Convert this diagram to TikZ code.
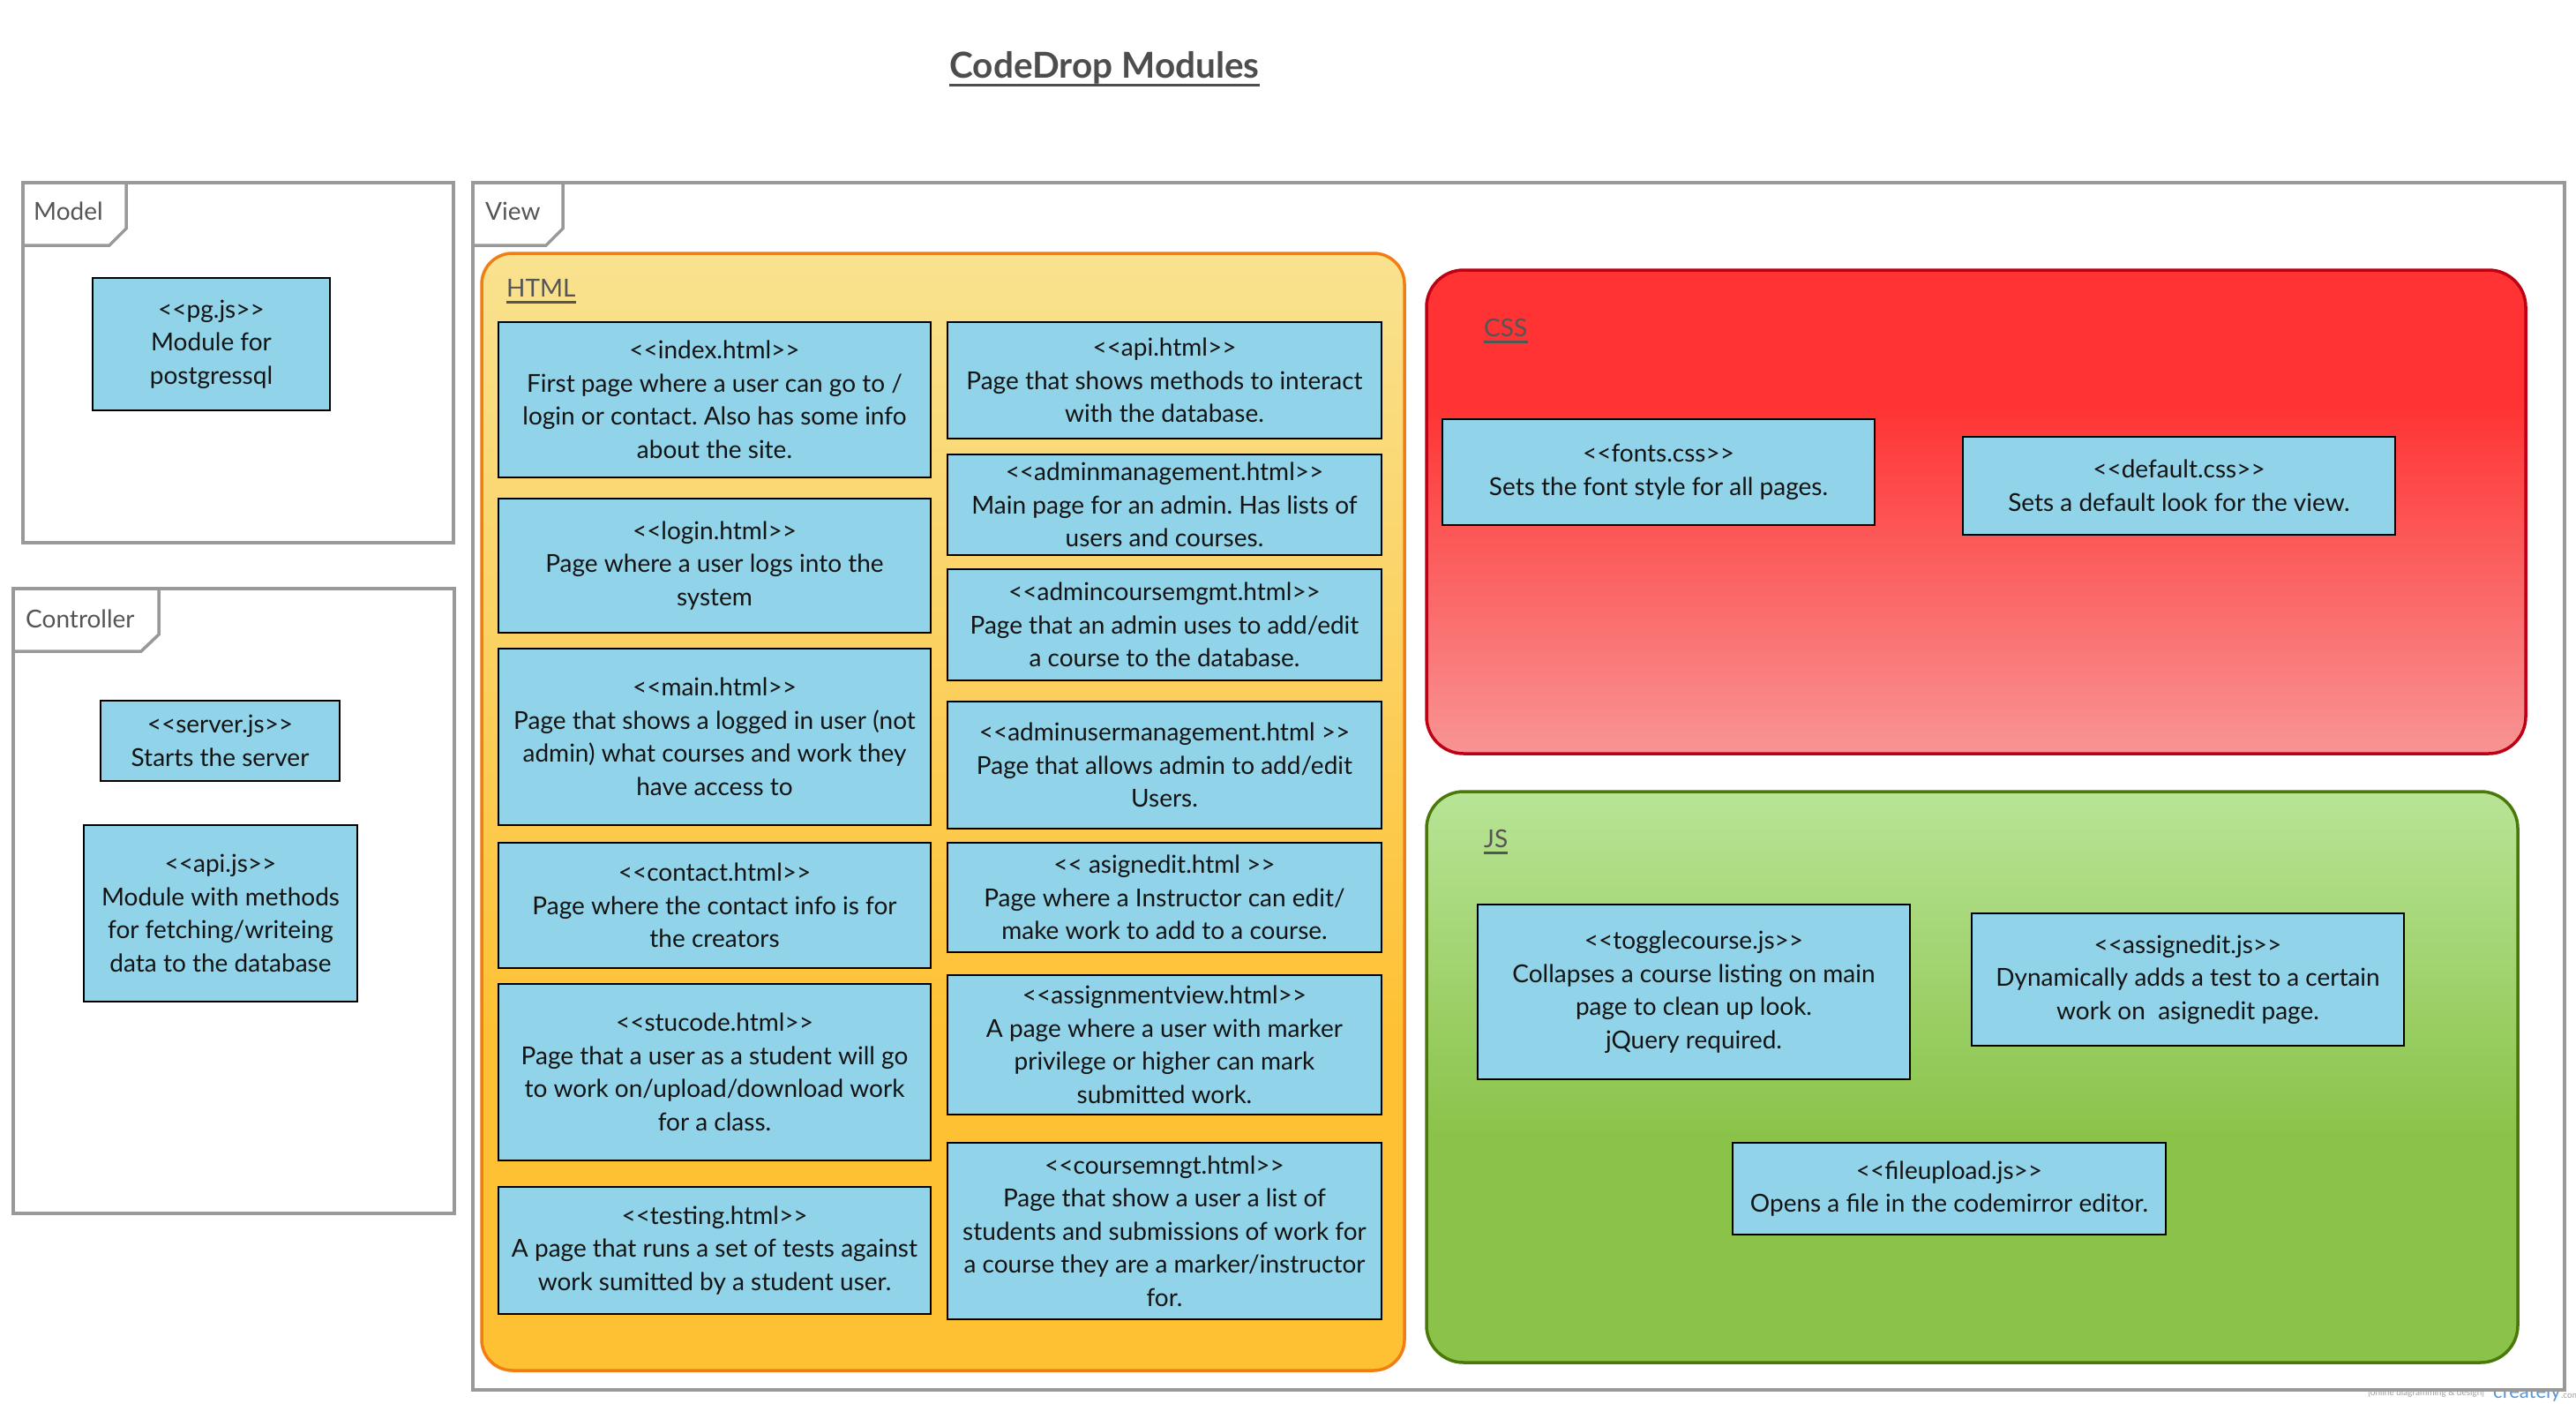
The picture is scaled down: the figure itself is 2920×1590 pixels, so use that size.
\documentclass[tikz,border=0pt]{standalone}
\usepackage{fontspec}
\setmainfont{Lato}
\frenchspacing
\definecolor{boxblue}{RGB}{145,212,233}
\definecolor{txtblack}{RGB}{20,20,20}
\definecolor{framegray}{RGB}{153,153,153}
\definecolor{labelgray}{RGB}{85,85,85}
\definecolor{titlegray}{RGB}{77,77,77}
\definecolor{htmltop}{RGB}{249,226,143}
\definecolor{htmlbot}{RGB}{254,193,52}
\definecolor{htmlborder}{RGB}{240,126,20}
\definecolor{csstop}{RGB}{255,51,51}
\definecolor{cssbot}{RGB}{248,148,148}
\definecolor{cssborder}{RGB}{190,0,20}
\definecolor{jstop}{RGB}{184,228,150}
\definecolor{jsbot}{RGB}{139,195,74}
\definecolor{jsborder}{RGB}{74,120,10}
\definecolor{wmgray}{RGB}{160,160,160}
\definecolor{wmblue}{RGB}{90,150,210}
\pgfdeclareverticalshading{htmlshade}{100bp}{color(0bp)=(htmlbot); color(40bp)=(htmlbot); color(75bp)=(htmltop); color(100bp)=(htmltop)}
\pgfdeclareverticalshading{cssshade}{100bp}{color(0bp)=(cssbot); color(25bp)=(cssbot); color(61bp)=(csstop); color(100bp)=(csstop)}
\pgfdeclareverticalshading{jsshade}{100bp}{color(0bp)=(jsbot); color(45bp)=(jsbot); color(75bp)=(jstop); color(100bp)=(jstop)}
\newcommand\dlt{<\kern0pt<}
\newcommand\dgt{>\kern0pt>}
\begin{document}
\begin{tikzpicture}[x=1pt,y=-1pt,
  bluebox/.style={draw=black, line width=2.5pt, fill=boxblue, align=center, inner sep=0pt,
    text=txtblack, font=\fontsize{28}{37.5}\selectfont},
  container/.style={draw=framegray, line width=3.5pt, fill=white, inner sep=0pt},
  tabline/.style={draw=framegray, line width=3.5pt, line join=miter},
  grouplabel/.style={anchor=base west, inner sep=0pt, text=labelgray, font=\fontsize{28}{34}\selectfont},
  sublabel/.style={anchor=base west, inner sep=0pt, text=labelgray, font=\fontsize{28}{34}\selectfont},
  underl/.style={draw=labelgray, line width=3pt},
  htmlgroup/.style={draw=htmlborder, line width=3.5pt, rounded corners=35pt, shading=htmlshade, inner sep=0pt},
  cssgroup/.style={draw=cssborder, line width=3.5pt, rounded corners=42pt, shading=cssshade, inner sep=0pt},
  jsgroup/.style={draw=jsborder, line width=3.5pt, rounded corners=42pt, shading=jsshade, inner sep=0pt},
  wmtext/.style={inner sep=0pt, anchor=base west}
]
\useasboundingbox[fill=white] (0,0) rectangle (2920,1590);

% title
\node[anchor=base, inner sep=0pt, text=titlegray, font=\fontsize{40.5}{48}\selectfont\bfseries] (title) at (1252,88) {CodeDrop Modules};
\draw[draw=titlegray, line width=3pt] ([yshift=-8pt]title.base west) -- ([yshift=-8pt]title.base east);

% watermark
\node[wmtext, text=wmgray, font=\fontsize{10}{12}\selectfont] (wm1) at (2684,1581) {[online diagramming \& design]};
\node[wmtext, text=wmblue, font=\fontsize{22}{24}\selectfont] (wm2) at (2826,1584) {creately};
\node[wmtext, text=wmgray, font=\fontsize{10}{12}\selectfont] (wm3) at (wm2.base east) {.com};

% containers
\node[container, minimum width=488pt, minimum height=408pt] (model) at (270,411) {};
\draw[tabline] (143,207) -- (143,259) -- (124,278) -- (26,278);
\node[grouplabel] (modellbl) at (38,249) {Model};

\node[container, minimum width=500pt, minimum height=708pt] (controller) at (265,1021) {};
\draw[tabline] (180,667) -- (180,719) -- (160,738) -- (15,738);
\node[grouplabel] (ctrllbl) at (29,711) {Controller};

\node[container, minimum width=2371pt, minimum height=1368pt] (view) at (1721.5,891) {};
\draw[tabline] (638,207) -- (638,259) -- (619,278) -- (536,278);
\node[grouplabel] (viewlbl) at (550,249) {View};

% model content
\node[bluebox, minimum width=269pt, minimum height=150pt] (pg) at (239.5,390) {\dlt pg.js\dgt\\Module for\\postgressql};

% controller content
\node[bluebox, minimum width=271pt, minimum height=91pt] (server) at (249.5,839.5) {\dlt server.js\dgt\\Starts the server};
\node[bluebox, minimum width=310pt, minimum height=200pt] (apijs) at (250,1035) {\dlt api.js\dgt\\Module with methods\\for fetching/writeing\\data to the database};

% HTML group
\node[htmlgroup, minimum width=1046pt, minimum height=1266pt] (html) at (1069,920) {};
\node[sublabel] (htmllbl) at (574,336) {HTML};
\draw[underl] ([yshift=-6pt]htmllbl.base west) -- ([yshift=-6pt]htmllbl.base east);

\node[bluebox, minimum width=490pt, minimum height=176pt] (index) at (810,453) {\dlt index.html\dgt\\First page where a user can go to /\\login or contact. Also has some info\\about the site.};
\node[bluebox, minimum width=490pt, minimum height=152pt] (login) at (810,641) {\dlt login.html\dgt\\Page where a user logs into the\\system};
\node[bluebox, minimum width=490pt, minimum height=200pt] (main) at (810,835) {\dlt main.html\dgt\\Page that shows a logged in user (not\\admin) what courses and work they\\have access to};
\node[bluebox, minimum width=490pt, minimum height=142pt] (contact) at (810,1026) {\dlt contact.html\dgt\\Page where the contact info is for\\the creators};
\node[bluebox, minimum width=490pt, minimum height=200pt] (stucode) at (810,1215) {\dlt stucode.html\dgt\\Page that a user as a student will go\\to work on/upload/download work\\for a class.};
\node[bluebox, minimum width=490pt, minimum height=144pt] (testing) at (810,1417) {\dlt testing.html\dgt\\A page that runs a set of tests against\\work sumitted by a student user.};

\node[bluebox, minimum width=492pt, minimum height=132pt] (apihtml) at (1320,431) {\dlt api.html\dgt\\Page that shows methods to interact\\with the database.};
\node[bluebox, minimum width=492pt, minimum height=114pt] (adminmgmt) at (1320,572) {\dlt adminmanagement.html\dgt\\Main page for an admin. Has lists of\\users and courses.};
\node[bluebox, minimum width=492pt, minimum height=126pt] (admincourse) at (1320,708) {\dlt admincoursemgmt.html\dgt\\Page that an admin uses to add/edit\\a course to the database.};
\node[bluebox, minimum width=492pt, minimum height=144pt] (adminuser) at (1320,867) {\dlt adminusermanagement.html \dgt\\Page that allows admin to add/edit\\Users.};
\node[bluebox, minimum width=492pt, minimum height=124pt] (asignedit) at (1320,1017) {\dlt{} asignedit.html \dgt\\Page where a Instructor can edit/\\make work to add to a course.};
\node[bluebox, minimum width=492pt, minimum height=158pt] (assignview) at (1320,1184) {\dlt assignmentview.html\dgt\\A page where a user with marker\\privilege or higher can mark\\submitted work.};
\node[bluebox, minimum width=492pt, minimum height=200pt] (coursemngt) at (1320,1395) {\dlt coursemngt.html\dgt\\Page that show a user a list of\\students and submissions of work for\\a course they are a marker/instructor\\for.};

% CSS group
\node[cssgroup, minimum width=1246pt, minimum height=548pt] (css) at (2240,580) {};
\node[sublabel] (csslbl) at (1682,381) {CSS};
\draw[underl] ([yshift=-6pt]csslbl.base west) -- ([yshift=-6pt]csslbl.base east);
\node[bluebox, minimum width=490pt, minimum height=120pt] (fonts) at (1880,535) {\dlt fonts.css\dgt\\Sets the font style for all pages.};
\node[bluebox, minimum width=490pt, minimum height=111pt] (default) at (2470,550.5) {\dlt default.css\dgt\\Sets a default look for the view.};

% JS group
\node[jsgroup, minimum width=1237pt, minimum height=647pt] (js) at (2235.5,1220.5) {};
\node[sublabel] (jslbl) at (1682,960) {JS};
\draw[underl] ([yshift=-6pt]jslbl.base west) -- ([yshift=-6pt]jslbl.base east);
\node[bluebox, minimum width=490pt, minimum height=198pt] (toggle) at (1920,1124) {\dlt togglecourse.js\dgt\\Collapses a course listing on main\\page to clean up look.\\jQuery required.};
\node[bluebox, minimum width=490pt, minimum height=150pt] (assignjs) at (2480,1110) {\dlt assignedit.js\dgt\\Dynamically adds a test to a certain\\work on\ \ asignedit page.};
\node[bluebox, minimum width=491pt, minimum height=104pt] (fileupload) at (2209.5,1347) {\dlt fileupload.js\dgt\\Opens a file in the codemirror editor.};
\end{tikzpicture}
\end{document}
